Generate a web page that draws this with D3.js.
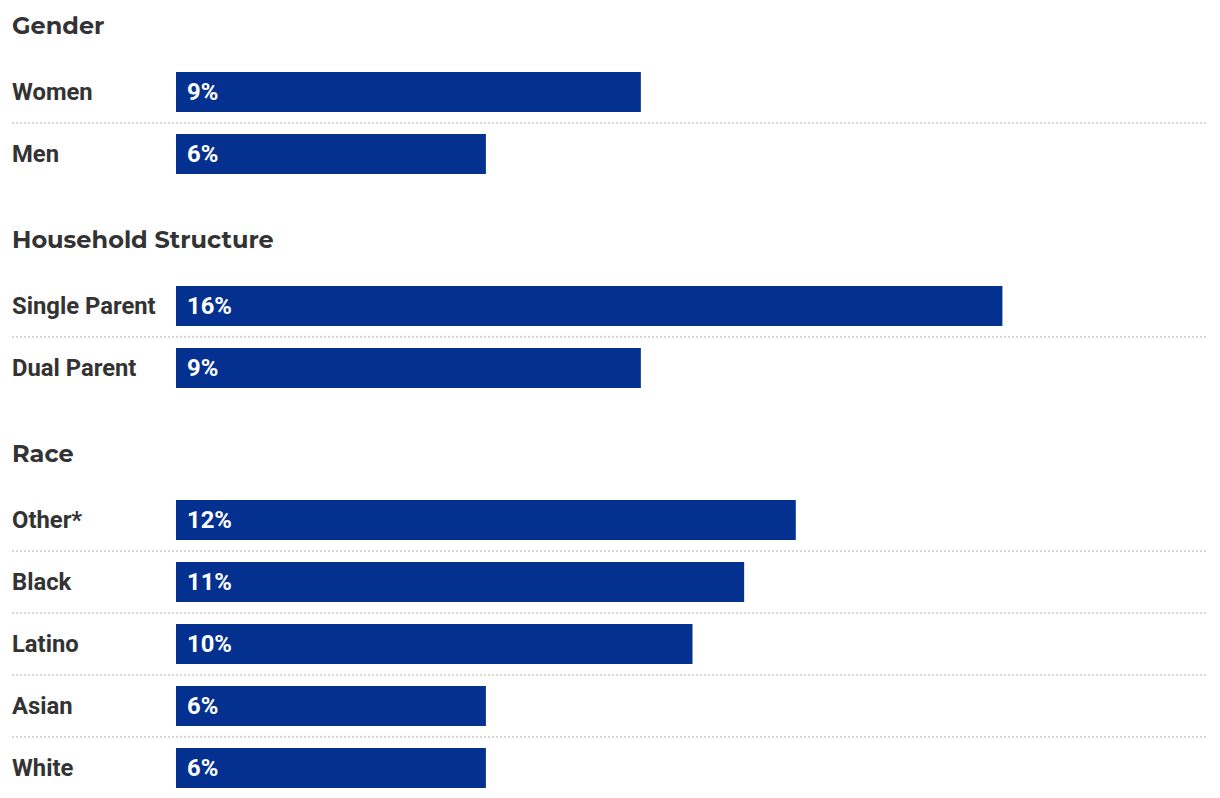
<!DOCTYPE html>
<html><head><meta charset="utf-8">
<script src="https://cdn.jsdelivr.net/npm/d3@7"></script>
<style>body{margin:0;background:#fff;}svg{display:block;}</style>
</head><body>
<svg id="chart" width="1220" height="798"></svg>
<script>
const groups = ["Gender", "Household Structure", "Race"];
const genderCategories = ["Women", "Men"];
const genderValues = [9, 6];
const householdCategories = ["Single Parent", "Dual Parent"];
const householdValues = [16, 9];
const raceCategories = ["Other*", "Black", "Latino", "Asian", "White"];
const raceValues = [12, 11, 10, 6, 6];

const data = [
  {title: groups[0], cats: genderCategories, vals: genderValues},
  {title: groups[1], cats: householdCategories, vals: householdValues},
  {title: groups[2], cats: raceCategories, vals: raceValues}
];

const svg = d3.select("#chart");
const left = 12, barX = 176, right = 1209;
const x = d3.scaleLinear().domain([0, 20]).range([barX, right]);
const rowPitch = 62, barH = 40, headerToBar = 46;
const color = "#04318f";

let y = 26; // header center
data.forEach(g => {
  svg.append("text").attr("x", left).attr("y", y).attr("dy", "0.35em")
    .attr("font-family", "Montserrat, Inter, 'Open Sans', sans-serif")
    .attr("font-weight", 700).attr("font-size", 24).attr("fill", "#333")
    .text(g.title);
  const top = y + headerToBar;
  const gg = svg.append("g");
  g.cats.forEach((c, i) => {
    const by = top + i * rowPitch;
    gg.append("rect").attr("x", x(0)).attr("y", by).attr("width", x(g.vals[i]) - x(0)).attr("height", barH).attr("fill", color);
    gg.append("text").attr("x", left).attr("y", by + barH / 2).attr("dy", "0.35em")
      .attr("font-family", "Roboto, sans-serif").attr("font-weight", 700).attr("font-size", 23.8).attr("fill", "#333").text(c);
    gg.append("text").attr("x", x(0) + 11).attr("y", by + barH / 2).attr("dy", "0.35em")
      .attr("font-family", "Roboto, sans-serif").attr("font-weight", 700).attr("font-size", 23.8).attr("fill", "#fff").text(g.vals[i] + "%");
    if (i < g.cats.length - 1) {
      const ly = by + barH + (rowPitch - barH) / 2;
      gg.append("line").attr("x1", left).attr("x2", right - 1).attr("y1", ly).attr("y2", ly)
        .attr("stroke", "#d6d6d6").attr("stroke-width", 2).attr("stroke-dasharray", "2,2");
    }
  });
  y = top + rowPitch * g.cats.length + headerToBar - 2;
});
</script>
</body></html>
